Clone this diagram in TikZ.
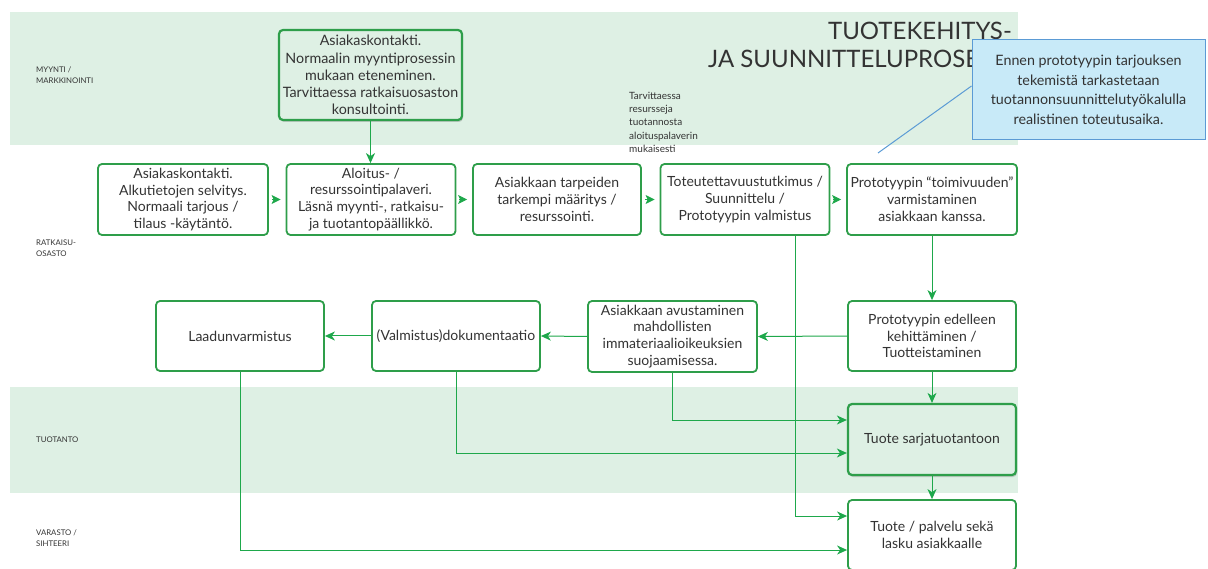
\documentclass[tikz,border=0pt]{standalone}
\usepackage{fontspec}
\setmainfont{Lato}
\usetikzlibrary{arrows.meta,shadows}
\definecolor{band}{HTML}{DEF0E4}
\definecolor{bgreen}{HTML}{2E9E4A}
\definecolor{agreen}{HTML}{1EA84B}
\definecolor{cfill}{HTML}{C8EAF8}
\definecolor{cline}{HTML}{5B9BD5}
\definecolor{txt}{HTML}{333333}
\begin{document}
\begin{tikzpicture}[x=1pt,y=-1pt,
 box/.style={draw=bgreen,line width=1.8pt,rounded corners=4pt,fill=white,align=center,inner sep=0pt,text=txt,font=\fontsize{14}{16.8}\selectfont},
 shbox/.style={box,fill=band,line width=2.2pt,drop shadow={opacity=0.35,shadow xshift=1pt,shadow yshift=-2pt}},
 arr/.style={draw=agreen,line width=1pt,-{Stealth[length=10pt,width=9pt,inset=3pt]}},
 tip/.style={draw=agreen,line width=1pt,-{Stealth[length=9pt,width=9pt,inset=2pt]}},
 lane/.style={anchor=north west,align=left,font=\fontsize{7.8}{10.5}\selectfont,text=txt,inner sep=0pt},
 callout/.style={draw=cline,line width=1pt,fill=cfill,align=center,inner sep=0pt,text=txt,font=\fontsize{14.3}{19.5}\selectfont}]
\useasboundingbox (0,0) rectangle (1208,569);
\fill[band] (10,12) rectangle (1018,145);
\fill[band] (10,387) rectangle (1018,493);
\node[anchor=north east,align=right,font=\fontsize{24}{28}\selectfont,text=txt,inner sep=0pt] (title) at (1012,22) {TUOTEKEHITYS-\\JA SUUNNITTELUPROSESSI};
% lane labels
\node[lane] (l1) at (36,67) {MYYNTI /\\MARKKINOINTI};
\node[lane] (l2) at (36,240) {RATKAISU-\\OSASTO};
\node[lane] (l3) at (36,437) {TUOTANTO};
\node[lane] (l4) at (36,530) {VARASTO /\\SIHTEERI};
\node[lane,font=\fontsize{10}{13.2}\selectfont] (note) at (629,92) {Tarvittaessa\\resursseja\\tuotannosta\\aloituspalaverin\\mukaisesti};
% boxes
\node[shbox,minimum width=183pt,minimum height=90pt,font=\fontsize{14.3}{17.2}\selectfont] (T) at (370.5,75) {Asiakaskontakti.\\Normaalin myyntiprosessin\\mukaan eteneminen.\\Tarvittaessa ratkaisuosaston\\konsultointi.};
\node[box,minimum width=170pt,minimum height=71pt] (B1) at (183,199.5) {Asiakaskontakti.\\Alkutietojen selvitys.\\Normaali tarjous /\\tilaus -käytäntö.};
\node[box,minimum width=169pt,minimum height=71pt] (B2) at (371,199.5) {Aloitus- /\\resurssointipalaveri.\\Läsnä myynti-, ratkaisu-\\ja tuotantopäällikkö.};
\node[box,minimum width=168pt,minimum height=71pt] (B3) at (557,199.5) {Asiakkaan tarpeiden\\tarkempi määritys /\\resurssointi.};
\node[box,minimum width=169pt,minimum height=71pt] (B4) at (745,199.5) {Toteutettavuustutkimus /\\Suunnittelu /\\Prototyypin valmistus};
\node[box,minimum width=170pt,minimum height=71pt] (B5) at (932,199.5) {Prototyypin “toimivuuden”\\varmistaminen\\asiakkaan kanssa.};
\node[box,minimum width=168pt,minimum height=70pt] (B6) at (932,336) {Prototyypin edelleen\\kehittäminen /\\Tuotteistaminen};
\node[box,minimum width=169pt,minimum height=71pt] (B7) at (672.5,336.5) {Asiakkaan avustaminen\\mahdollisten\\immateriaalioikeuksien\\suojaamisessa.};
\node[box,minimum width=168pt,minimum height=70pt] (B8) at (456,336) {(Valmistus)dokumentaatio};
\node[box,minimum width=168pt,minimum height=70pt] (B9) at (240,336) {Laadunvarmistus};
\node[shbox,minimum width=168pt,minimum height=71pt] (B10) at (932,439.5) {Tuote sarjatuotantoon};
\node[box,minimum width=168pt,minimum height=70pt] (B11) at (932,535) {Tuote / palvelu sekä\\lasku asiakkaalle};
% connectors
\draw[arr] (T.south) -- (T.south |- B2.north);
\draw[tip] ([xshift=3pt]B1.east) -- ([xshift=-5pt]B2.west);
\draw[tip] ([xshift=3pt]B2.east) -- ([xshift=-5pt]B3.west);
\draw[tip] ([xshift=3pt]B3.east) -- ([xshift=-5pt]B4.west);
\draw[tip] ([xshift=3pt]B4.east) -- ([xshift=-5pt]B5.west);
\draw[arr] (B6.north |- B5.south) -- (B6.north);
\draw[arr] (B6.west) -- (B7.east);
\draw[arr] (B7.west) -- (B8.east);
\draw[arr] (B8.west) -- (B9.east);
\draw[arr] (B6.south) -- (B10.north);
\draw[arr] (B10.south) -- (B11.north);
\draw[arr] ([xshift=50pt]B4.south) |- ([yshift=19pt]B11.west);
\draw[arr] (B7.south) |- ([yshift=19.5pt]B10.west);
\draw[arr] (B8.south) |- ([yshift=-13.5pt]B10.west);
\draw[arr] (B9.south) |- ([yshift=-15pt]B11.west);
% callout
\node[callout,minimum width=233pt,minimum height=100pt] (C) at (1088.5,90) {Ennen prototyypin tarjouksen\\tekemistä tarkastetaan\\tuotannonsuunnittelutyökalulla\\realistinen toteutusaika.};
\coordinate (cp) at (878,153);
\draw[cline,line width=1pt] (cp) -- ([yshift=4pt]C.west);
\end{tikzpicture}
\end{document}
